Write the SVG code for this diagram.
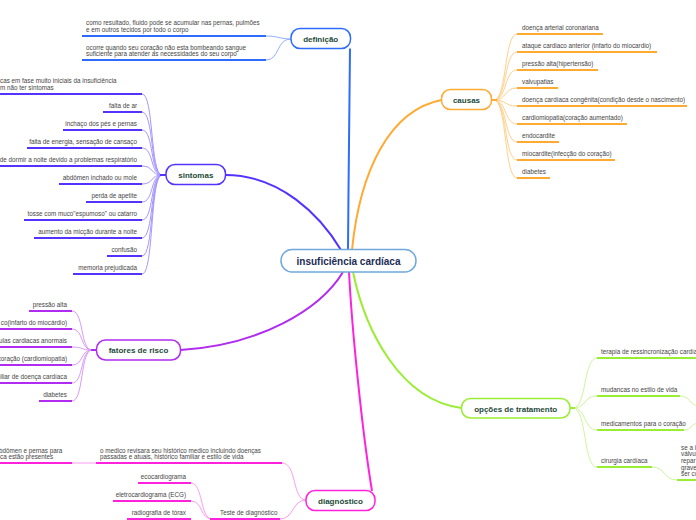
<svg xmlns="http://www.w3.org/2000/svg" width="696" height="520" viewBox="0 0 696 520">
<style>
text{font-family:"Liberation Sans",Arial,sans-serif}
.t{font-size:6.3px;fill:#454545}
.tr{font-size:6.3px;fill:#454545;text-anchor:end}
.nt{font-size:8px;font-weight:bold;fill:#1d4a3a;text-anchor:middle}
.ct{font-size:10px;font-weight:bold;fill:#1c2c55;text-anchor:middle}
.box{fill:#fff;stroke-width:1.5}
.u{stroke-width:2;fill:none;stroke-linecap:butt}
.c{fill:none;stroke-width:1}
.m{fill:none;stroke-width:2}
.blue{stroke:#2e6bff}.lblue{stroke:#8fb0ff}
.vio{stroke:#5533ff}.lvio{stroke:#a596ff}
.ora{stroke:#ffaa33}.lora{stroke:#ffd08a}
.pur{stroke:#b02cf0}.lpur{stroke:#d99af8}
.grn{stroke:#99ee33}.lgrn{stroke:#ccf79a}
.mag{stroke:#ff22dd}.lmag{stroke:#ff9cef}
</style>
<g id="connectors">
<path class="m blue" d="M348,250 C348.5,180 349.5,100 350,48.5"/>
<path class="m vio" d="M341,250 C320,215 280,175 225.5,175"/>
<path class="m ora" d="M352,250 C360,170 390,110 441.5,100"/>
<path class="m pur" d="M343,272 C320,310 260,345 180.5,350"/>
<path class="m grn" d="M353,272 C365,330 400,400 461.5,408"/>
<path class="m mag" d="M349,272 C352,330 362,430 372,491"/>
<!-- definicao -->
<path class="c lblue" d="M266,36 C278,36 280,39 291,39"/>
<path class="c lblue" d="M266,60 C280,60 276,39 291,39"/>
<!-- sintomas -->
<g class="c lvio">
<path d="M142,94 C154,94 150,175 162,175"/>
<path d="M142,112 C154,112 150,175 162,175"/>
<path d="M142,130 C154,130 150,175 162,175"/>
<path d="M142,148 C154,148 150,175 162,175"/>
<path d="M142,166 C154,166 150,175 162,175"/>
<path d="M142,184 C154,184 150,175 162,175"/>
<path d="M142,202 C154,202 150,175 162,175"/>
<path d="M142,220 C154,220 150,175 162,175"/>
<path d="M142,238 C154,238 150,175 162,175"/>
<path d="M142,256 C154,256 150,175 162,175"/>
<path d="M142,274 C154,274 150,175 162,175"/>
</g>
<path class="m vio" d="M160,175 L166,175"/>
<!-- causas -->
<g class="c lora">
<path d="M494,100 C507,100 504,34 517,34"/>
<path d="M494,100 C507,100 504,52 517,52"/>
<path d="M494,100 C507,100 504,70 517,70"/>
<path d="M494,100 C507,100 504,88 517,88"/>
<path d="M494,100 C507,100 504,106 517,106"/>
<path d="M494,100 C507,100 504,124 517,124"/>
<path d="M494,100 C507,100 504,142 517,142"/>
<path d="M494,100 C507,100 504,160 517,160"/>
<path d="M494,100 C507,100 504,178 517,178"/>
</g>
<path class="m ora" d="M491.5,100 L497,100"/>
<!-- fatores -->
<g class="c lpur">
<path d="M72,311 C84,311 80,350 92,350"/>
<path d="M72,329 C84,329 80,350 92,350"/>
<path d="M72,347 C84,347 80,350 92,350"/>
<path d="M72,365 C84,365 80,350 92,350"/>
<path d="M72,383 C84,383 80,350 92,350"/>
<path d="M72,401 C84,401 80,350 92,350"/>
</g>
<path class="m pur" d="M91,350 L96.5,350"/>
<!-- opcoes -->
<g class="c lgrn">
<path d="M573,408 C587,408 583,358 597,358"/>
<path d="M573,408 C587,408 583,396 597,396"/>
<path d="M573,408 C587,408 583,430 597,430"/>
<path d="M573,408 C587,408 583,467 597,467"/>
<path d="M680,396 C690,396 690,405 698,406"/>
<path d="M684,430 C691,430 691,424 698,423"/>
<path d="M652,467 C665,467 664,480 677,480"/>
</g>
<path class="m grn" d="M570,408 L575,408"/>
<!-- diagnostico -->
<g class="c lmag">
<path d="M282,463 C297,463 292,500 306,500"/>
<path d="M280,519 C294,519 292,500 306,500"/>
<path d="M72,463 L96,463"/>
<path d="M191,483 C203,483 200,519 212,519"/>
<path d="M191,501 C203,501 200,519 212,519"/>
</g>
</g>
<g id="central">
<rect x="281" y="249.5" width="135" height="22.5" rx="11" fill="#fff" stroke="#6fa9dc" stroke-width="1.5"/>
<text class="ct" x="348.5" y="264.5">insuficiência cardíaca</text>
</g>
<g id="definicao">
<rect class="box blue" x="291" y="28.5" width="59.5" height="20" rx="9"/>
<text class="nt" x="320.7" y="41.5">definição</text>
</g>
<g id="def-1">
<text class="t" x="86" y="25.3">como resultado, fluido pode se acumular nas pernas, pulmões</text>
<text class="t" x="86" y="32">e em outros tecidos por todo o corpo</text>
<path class="u blue" d="M82,36 H266"/>
</g>
<g id="def-2">
<text class="t" x="86" y="49.5">ocorre quando seu coração não esta bombeando sangue</text>
<text class="t" x="86" y="56.2">suficiente para atender as necessidades do seu corpo</text>
<path class="u blue" d="M82,60 H266"/>
</g>
<g id="sintomas">
<rect class="box vio" x="166" y="164.5" width="59.5" height="20" rx="9"/>
<text class="nt" x="195.8" y="177.8">sintomas</text>
</g>
<g id="sint-items">
<text class="t" x="0" y="83.3">cas em fase muito iniciais da insuficiência</text>
<text class="t" x="0" y="90">m não ter sintomas</text>
<path class="u vio" d="M0,94 H142"/>
<text class="tr" x="137" y="108">falta de ar</text>
<path class="u vio" d="M103,112 H142"/>
<text class="tr" x="137" y="126">inchaço dos pés e pernas</text>
<path class="u vio" d="M63,130 H142"/>
<text class="tr" x="137" y="144">falta de energia, sensação de cansaço</text>
<path class="u vio" d="M27,148 H142"/>
<text class="tr" x="137" y="162">de dormir a noite devido a problemas respiratório</text>
<path class="u vio" d="M0,166 H142"/>
<text class="tr" x="137" y="180">abdômen inchado ou mole</text>
<path class="u vio" d="M59,184 H142"/>
<text class="tr" x="137" y="198">perda de apetite</text>
<path class="u vio" d="M86,202 H142"/>
<text class="tr" x="137" y="216">tosse com muco"espumoso" ou catarro</text>
<path class="u vio" d="M24,220 H142"/>
<text class="tr" x="137" y="234">aumento da micção durante a noite</text>
<path class="u vio" d="M34,238 H142"/>
<text class="tr" x="137" y="252">confusão</text>
<path class="u vio" d="M107,256 H142"/>
<text class="tr" x="137" y="270">memoria prejudicada</text>
<path class="u vio" d="M73,274 H142"/>
</g>
<g id="causas">
<rect class="box ora" x="441.5" y="89.5" width="50" height="20" rx="9"/>
<text class="nt" x="466.5" y="102.8">causas</text>
</g>
<g id="causas-items">
<text class="t" x="522" y="30">doença arterial coronariana</text>
<path class="u ora" d="M517,34 H603"/>
<text class="t" x="522" y="48">ataque cardiaco anterior (infarto do miocardio)</text>
<path class="u ora" d="M517,52 H657"/>
<text class="t" x="522" y="66">pressão alta(hipertensão)</text>
<path class="u ora" d="M517,70 H598"/>
<text class="t" x="522" y="84">valvupatias</text>
<path class="u ora" d="M517,88 H558"/>
<text class="t" x="522" y="102">doença cardíaca congênita(condição desde o nascimento)</text>
<path class="u ora" d="M517,106 H687"/>
<text class="t" x="522" y="120">cardiomiopatia(coração aumentado)</text>
<path class="u ora" d="M517,124 H627"/>
<text class="t" x="522" y="138">endocardite</text>
<path class="u ora" d="M517,142 H559"/>
<text class="t" x="522" y="156">miocardite(infecção do coração)</text>
<path class="u ora" d="M517,160 H615"/>
<text class="t" x="522" y="174">diabetes</text>
<path class="u ora" d="M517,178 H550"/>
</g>
<g id="fatores">
<rect class="box pur" x="96.5" y="340" width="84" height="20" rx="9"/>
<text class="nt" x="138.5" y="353.3">fatores de risco</text>
</g>
<g id="fatores-items">
<text class="tr" x="67" y="307">pressão alta</text>
<path class="u pur" d="M29,311 H72"/>
<text class="tr" x="67" y="325">co(infarto do miocárdio)</text>
<path class="u pur" d="M0,329 H72"/>
<text class="tr" x="67" y="343">ulas cardiacas anormais</text>
<path class="u pur" d="M0,347 H72"/>
<text class="tr" x="67" y="361">coração (cardiomiopatia)</text>
<path class="u pur" d="M0,365 H72"/>
<text class="tr" x="67" y="379">miliar de doença cardíaca</text>
<path class="u pur" d="M0,383 H72"/>
<text class="tr" x="67" y="397">diabetes</text>
<path class="u pur" d="M39,401 H72"/>
</g>
<g id="opcoes">
<rect class="box grn" x="461.5" y="398.5" width="108.5" height="19.5" rx="9"/>
<text class="nt" x="515.7" y="411.5">opções de tratamento</text>
</g>
<g id="opcoes-items">
<text class="t" x="601" y="354.3">terapia de ressincronização cardíaca</text>
<path class="u grn" d="M597,358 H698"/>
<text class="t" x="601" y="392">mudancas no estilo de vida</text>
<path class="u grn" d="M597,396 H680"/>
<text class="t" x="601" y="426">medicamentos para o coração</text>
<path class="u grn" d="M597,430 H684"/>
<text class="t" x="601" y="463">cirurgia cardíaca</text>
<path class="u grn" d="M597,467 H652"/>
<text class="t" x="681" y="449.5">se a i</text>
<text class="t" x="681" y="456.2">válvul</text>
<text class="t" x="681" y="462.9">repar</text>
<text class="t" x="681" y="469.6">grave</text>
<text class="t" x="681" y="476.3">ser co</text>
<path class="u grn" d="M677,480 H698"/>
</g>
<g id="diagnostico">
<rect class="box mag" x="306" y="490.5" width="69" height="20" rx="9"/>
<text class="nt" x="340.5" y="503.8">diagnóstico</text>
</g>
<g id="diag-items">
<text class="t" x="100" y="452.5">o medico revisara seu histórico medico incluindo doenças</text>
<text class="t" x="100" y="459.2">passadas e atuais, histórico familiar e estilo de vida</text>
<path class="u mag" d="M96,463 H282"/>
<text class="t" x="-1" y="452.5">bdômen e pernas para</text>
<text class="t" x="0" y="459.2">ca estão presentes</text>
<path class="u mag" d="M0,463 H72"/>
<text class="t" x="220" y="515.3">Teste de diagnóstico</text>
<path class="u mag" d="M210,519 H280"/>
<text class="tr" x="186" y="479">ecocardiograma</text>
<path class="u mag" d="M138,483 H191"/>
<text class="tr" x="186" y="497">eletrocardiograma (ECG)</text>
<path class="u mag" d="M113,501 H191"/>
<text class="tr" x="186" y="515">radiografia de tórax</text>
<path class="u mag" d="M127,519 H191"/>
</g>
</svg>
